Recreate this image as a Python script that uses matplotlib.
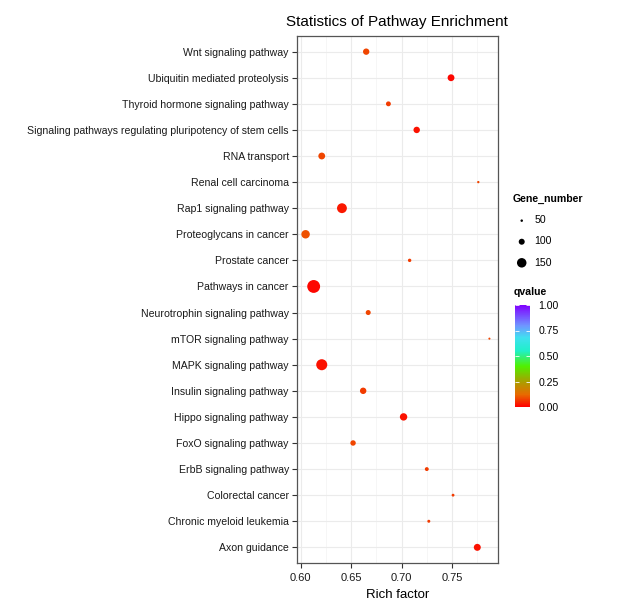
import matplotlib
matplotlib.use("Agg")
import matplotlib.pyplot as plt
import numpy as np
from matplotlib.colors import LinearSegmentedColormap, Normalize
from matplotlib.colorbar import ColorbarBase

plt.rcParams['font.family'] = ['Liberation Sans', 'DejaVu Sans']

# pathways, bottom to top as drawn
pathways = ["Axon guidance", "Chronic myeloid leukemia", "Colorectal cancer",
            "ErbB signaling pathway", "FoxO signaling pathway", "Hippo signaling pathway",
            "Insulin signaling pathway", "MAPK signaling pathway", "mTOR signaling pathway",
            "Neurotrophin signaling pathway", "Pathways in cancer", "Prostate cancer",
            "Proteoglycans in cancer", "Rap1 signaling pathway", "Renal cell carcinoma",
            "RNA transport", "Signaling pathways regulating pluripotency of stem cells",
            "Thyroid hormone signaling pathway", "Ubiquitin mediated proteolysis",
            "Wnt signaling pathway"]
rich_factor = [0.775, 0.727, 0.751, 0.725, 0.652, 0.702, 0.662, 0.621, 0.787, 0.667,
               0.613, 0.708, 0.605, 0.641, 0.776, 0.621, 0.715, 0.687, 0.749, 0.665]
gene_number = [114, 57, 55, 70, 92, 120, 106, 172, 44, 86,
               198, 63, 135, 155, 48, 112, 106, 84, 112, 105]
qvalue = [0.02, 0.07, 0.07, 0.07, 0.08, 0.02, 0.07, 0.02, 0.08, 0.08,
          0.01, 0.07, 0.09, 0.03, 0.08, 0.08, 0.02, 0.07, 0.01, 0.08]

size_breaks = [50, 100, 150]
q_ticks = [0.0, 0.25, 0.5, 0.75, 1.0]

cmap = LinearSegmentedColormap.from_list("qv", [
    (0.0, "#FF0000"), (0.12, "#E86A00"), (0.25, "#A8A000"), (0.4, "#50F000"),
    (0.55, "#20F0C8"), (0.68, "#40E0F0"), (0.8, "#6F95FF"), (1.0, "#8000FF")])
norm = Normalize(0, 1)

dpi = 100


def marker_area(v):
    d_px = 0.07 * np.asarray(v, dtype=float) - 1.0
    d_pt = d_px * 72.0 / dpi
    return d_pt ** 2


fig = plt.figure(figsize=(6.27, 6.08), dpi=dpi)
ax = fig.add_axes([296.5 / 627, 1 - 563 / 608, 201.5 / 627, 527 / 608])

y = np.arange(1, len(pathways) + 1)
ax.scatter(rich_factor, y, s=marker_area(gene_number), c=cmap(norm(qvalue)),
           edgecolors='none', zorder=3)

ax.set_xlim(0.596, 0.7955)
ax.set_ylim(0.4, 20.6)
ax.set_xticks([0.60, 0.65, 0.70, 0.75])
ax.set_xticklabels(["0.60", "0.65", "0.70", "0.75"])
ax.set_xticks([0.625, 0.675, 0.725, 0.775], minor=True)
ax.set_yticks(y)
ax.set_yticklabels(pathways)
ax.grid(True, which='major', color='#EBEBEB', lw=0.8, zorder=0)
ax.grid(True, which='minor', axis='x', color='#F3F3F3', lw=0.5, zorder=0)
ax.tick_params(axis='y', which='major', labelsize=7.55, length=3.5, width=0.8,
               color='#333333', labelcolor='#1a1a1a', pad=2)
ax.tick_params(axis='x', which='major', labelsize=8, length=3.5, width=0.8,
               color='#333333', labelcolor='#1a1a1a', pad=4)
ax.tick_params(axis='x', which='minor', length=0)
for sp in ax.spines.values():
    sp.set_color('#555555')
    sp.set_linewidth(0.9)

ax.set_title("Statistics of Pathway Enrichment", fontsize=11, pad=7)
ax.set_xlabel("Rich factor", fontsize=9.5, labelpad=4)

# size legend
handles = [ax.scatter([], [], s=marker_area(b), c='black', edgecolors='none')
           for b in size_breaks]
leg = fig.legend(handles, [str(b) for b in size_breaks], title="Gene_number",
                 loc='upper left', bbox_to_anchor=(508 / 627, 1 - 190 / 608),
                 frameon=False, fontsize=7.6, title_fontsize=7.6,
                 labelspacing=1.05, handletextpad=0.3, handlelength=1.8,
                 borderaxespad=0)
leg.get_title().set_fontweight('bold')
leg._legend_box.align = "left"

# qvalue colourbar
fig.text(514 / 627, 1 - 292 / 608, "qvalue", fontsize=7.6, fontweight='bold',
         va='center', ha='left')
cax = fig.add_axes([515 / 627, 1 - 407 / 608, 15 / 627, 102 / 608])
cb = ColorbarBase(cax, cmap=cmap, norm=norm, ticks=q_ticks)
cb.outline.set_visible(False)
cb.set_ticklabels(["0.00", "0.25", "0.50", "0.75", "1.00"])
cax.tick_params(axis='y', which='both', direction='in', color='white',
                length=3, width=0.6, left=True, right=True, labelsize=7.6, pad=6)

fig.savefig("out.png", dpi=dpi)
